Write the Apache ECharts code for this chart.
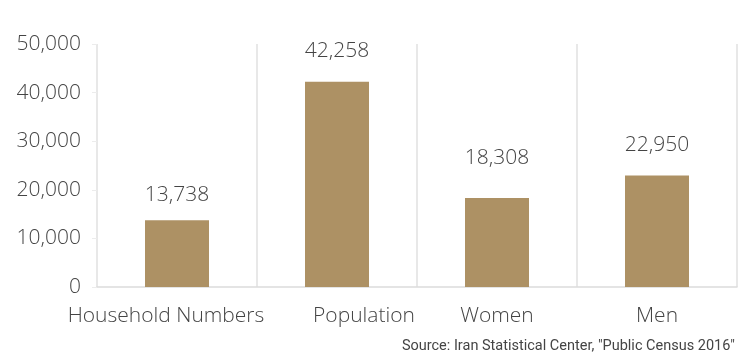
<!DOCTYPE html>
<html>
<head>
<meta charset="utf-8">
<script src="https://cdn.jsdelivr.net/npm/echarts@6/dist/echarts.min.js"></script>
<style>
  html, body { margin: 0; padding: 0; background: #fff; }
  #chart { width: 738px; height: 363px; }
</style>
</head>
<body>
<div id="chart"></div>
<script>
// Census figures (thousands)
const categories = ['Household Numbers', 'Population', 'Women', 'Men'];
const values = [13738, 42258, 18308, 22950];
const yTicks = [0, 10000, 20000, 30000, 40000, 50000];
const sourceNote = 'Source: Iran Statistical Center, "Public Census 2016"';

// gap between each value label and its bar top
const labelGaps = [15, 20, 30, 20];
// horizontal nudge for each category label
const labelShift = [-11, 27, 0, 0];

const FONT = 'Open Sans';
const SIZE = 21;
const INK = '#444444';

const fmt = v => v.toLocaleString('en-US');

const chart = echarts.init(document.getElementById('chart'));
chart.setOption({
  backgroundColor: '#ffffff',
  animation: false,
  textStyle: { fontFamily: FONT },
  grid: { left: 97, right: 1, top: 44, bottom: 76 },
  graphic: [{
    type: 'text',
    right: 3,
    top: 339,
    style: { text: sourceNote, font: '14.5px Roboto', fill: '#444' }
  }],
  xAxis: {
    type: 'category',
    data: categories,
    boundaryGap: true,
    axisLine: { show: true, lineStyle: { color: '#dcdcdc', width: 1.5 } },
    axisTick: { show: false },
    splitLine: { show: true, lineStyle: { color: '#e8e8e8', width: 2 } },
    axisLabel: {
      margin: 19,
      interval: 0,
      formatter: (v, i) => {
        const s = labelShift[i];
        if (s > 0) return '{r|' + v + '}';
        if (s < 0) return '{l|' + v + '}';
        return '{c|' + v + '}';
      },
      rich: {
        r: { fontFamily: FONT, fontWeight: 300, fontSize: SIZE, color: INK, padding: [0, 0, 0, 2 * labelShift[1]] },
        l: { fontFamily: FONT, fontWeight: 300, fontSize: SIZE, color: INK, padding: [0, -2 * labelShift[0], 0, 0] },
        c: { fontFamily: FONT, fontWeight: 300, fontSize: SIZE, color: INK }
      }
    }
  },
  yAxis: {
    type: 'value',
    min: yTicks[0],
    max: yTicks[yTicks.length - 1],
    interval: yTicks[1] - yTicks[0],
    axisLine: { show: false },
    axisTick: { show: true, length: 5, lineStyle: { color: '#ececec' } },
    splitLine: { show: false },
    axisLabel: {
      margin: 16,
      fontFamily: FONT,
      fontWeight: 300,
      fontSize: SIZE,
      color: INK,
      formatter: v => fmt(v)
    }
  },
  series: [{
    type: 'bar',
    barWidth: '40%',
    itemStyle: { color: '#ad9164' },
    data: values.map((v, i) => ({
      value: v,
      label: {
        show: true,
        position: 'top',
        distance: labelGaps[i],
        fontFamily: FONT,
        fontWeight: 300,
        fontSize: SIZE,
        color: INK,
        formatter: p => fmt(p.value)
      }
    }))
  }]
});
</script>
</body>
</html>
